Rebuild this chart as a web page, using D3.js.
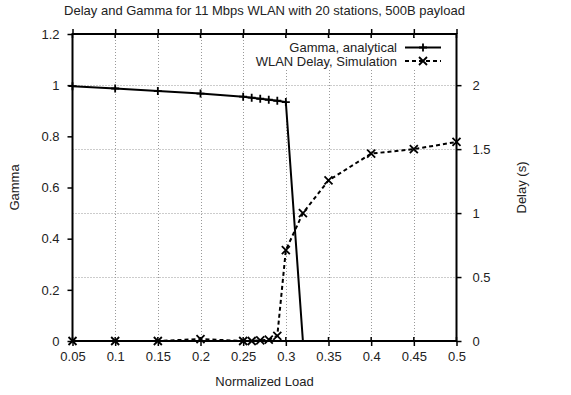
<!DOCTYPE html>
<html>
<head>
<meta charset="utf-8">
<script src="https://cdn.jsdelivr.net/npm/d3@7"></script>
<style>
  body { margin: 0; background: #fff; }
  text { font-family: "Liberation Sans", Arial, sans-serif; fill: #222; }
</style>
</head>
<body>
<svg width="571" height="395"></svg>
<script>
// data
const loads = [0.05, 0.1, 0.15, 0.2, 0.25, 0.26, 0.27, 0.28, 0.29, 0.3, 0.32];
const gamma = [0.996, 0.987, 0.977, 0.967, 0.955, 0.951, 0.947, 0.943, 0.939, 0.934, 0];

const delayLoads = [0.05, 0.1, 0.15, 0.2, 0.25, 0.26, 0.27, 0.28, 0.29, 0.3, 0.32, 0.35, 0.4, 0.45, 0.5];
const delay = [0, 0, 0, 0.015, 0, 0, 0.005, 0.01, 0.04, 0.71, 1.0, 1.255, 1.465, 1.5, 1.556];

const xTicks = [0.05, 0.1, 0.15, 0.2, 0.25, 0.3, 0.35, 0.4, 0.45, 0.5];
const yTicks = [0, 0.2, 0.4, 0.6, 0.8, 1, 1.2];
const y2Ticks = [0, 0.5, 1, 1.5, 2];

const svg = d3.select("svg");

const pLeft = 72.5, pRight = 456.5, pTop = 34, pBottom = 341;

const x = d3.scaleLinear().domain([0.05, 0.5]).range([pLeft, pRight]);
const y = d3.scaleLinear().domain([0, 1.2]).range([pBottom, pTop]);
const y2 = d3.scaleLinear().domain([0, 2.4]).range([pBottom, pTop]);

// grid (x ticks and y2 ticks)
const grid = svg.append("g").attr("stroke", "#999").attr("stroke-width", 1).attr("stroke-dasharray", "1,2");
grid.selectAll(".gx").data(xTicks.slice(1, -1)).enter().append("line")
  .attr("x1", d => Math.round(x(d)) + 0.5).attr("x2", d => Math.round(x(d)) + 0.5)
  .attr("y1", pTop).attr("y2", pBottom);
grid.selectAll(".gy").data(y2Ticks.slice(1)).enter().append("line")
  .attr("x1", pLeft).attr("x2", pRight)
  .attr("y1", d => Math.round(y2(d)) + 0.5).attr("y2", d => Math.round(y2(d)) + 0.5);

// axes
const fmt = d => String(d);
const xAxis = svg.append("g").attr("transform", `translate(0,${pBottom})`)
  .call(d3.axisBottom(x).tickValues(xTicks).tickFormat(fmt).tickSize(5).tickPadding(6));
const xTop = svg.append("g").attr("transform", `translate(0,${pTop})`)
  .call(d3.axisTop(x).tickValues(xTicks).tickFormat("").tickSize(5));
const yAxis = svg.append("g").attr("transform", `translate(${pLeft},0)`)
  .call(d3.axisLeft(y).tickValues(yTicks).tickFormat(fmt).tickSize(5).tickPadding(8));
const y2Axis = svg.append("g").attr("transform", `translate(${pRight},0)`)
  .call(d3.axisRight(y2).tickValues(y2Ticks).tickFormat(fmt).tickSize(5).tickPadding(11));

[xAxis, xTop, yAxis, y2Axis].forEach(g => {
  g.select(".domain").remove();
  g.selectAll("line").attr("stroke", "#000").attr("stroke-width", 1.5);
  g.selectAll("text").attr("font-size", 13).attr("fill", "#222")
    .attr("font-family", "Liberation Sans, Arial, sans-serif");
});

// inward halves of the x ticks
svg.append("g").selectAll("line").data(xTicks).enter().append("line")
  .attr("x1", d => x(d)).attr("x2", d => x(d))
  .attr("y1", pBottom).attr("y2", pBottom - 4)
  .attr("stroke", "#000").attr("stroke-width", 1.5);
svg.append("g").selectAll("line").data(xTicks).enter().append("line")
  .attr("x1", d => x(d)).attr("x2", d => x(d))
  .attr("y1", pTop).attr("y2", pTop + 4)
  .attr("stroke", "#000").attr("stroke-width", 1.5);

// frame
svg.append("rect").attr("x", pLeft).attr("y", pTop)
  .attr("width", pRight - pLeft).attr("height", pBottom - pTop)
  .attr("fill", "none").attr("stroke", "#000").attr("stroke-width", 2);

// legend background hides the grid
svg.append("rect").attr("x", 250).attr("y", pTop + 4).attr("width", 196).attr("height", 31).attr("fill", "#fff");

// series
const gammaPts = loads.map((d, i) => [d, gamma[i]]);
svg.append("path").datum(gammaPts)
  .attr("d", d3.line().x(d => x(d[0])).y(d => y(d[1])))
  .attr("fill", "none").attr("stroke", "#000").attr("stroke-width", 2);

const delayPts = delayLoads.map((d, i) => [d, delay[i]]);
svg.append("path").datum(delayPts)
  .attr("d", d3.line().x(d => x(d[0])).y(d => y2(d[1])))
  .attr("fill", "none").attr("stroke", "#000").attr("stroke-width", 2)
  .attr("stroke-dasharray", "4,3");

const m = 4;
function plus(g, cx, cy) {
  g.append("path").attr("d", `M${cx - m},${cy}H${cx + m}M${cx},${cy - m}V${cy + m}`)
    .attr("stroke", "#000").attr("stroke-width", 1.8).attr("fill", "none");
}
function cross(g, cx, cy) {
  g.append("path").attr("d", `M${cx - m},${cy - m}L${cx + m},${cy + m}M${cx - m},${cy + m}L${cx + m},${cy - m}`)
    .attr("stroke", "#000").attr("stroke-width", 1.8).attr("fill", "none");
}
const marks = svg.append("g");
gammaPts.slice(0, -1).forEach(d => plus(marks, x(d[0]), y(d[1])));
delayPts.forEach(d => cross(marks, x(d[0]), y2(d[1])));

// legend
const legend = [
  {label: "Gamma, analytical", dash: null, mark: plus},
  {label: "WLAN Delay, Simulation", dash: "4,3", mark: cross}
];
legend.forEach((l, i) => {
  const ly = 47.5 + i * 13.5;
  svg.append("text").attr("x", 397).attr("y", ly + 4.5).attr("text-anchor", "end")
    .attr("font-size", 13).text(l.label);
  svg.append("line").attr("x1", 405).attr("x2", 441).attr("y1", ly).attr("y2", ly)
    .attr("stroke", "#000").attr("stroke-width", 2).attr("stroke-dasharray", l.dash);
  l.mark(svg, 423, ly);
});

// titles
svg.append("text").attr("x", (pLeft + pRight) / 2).attr("y", 15).attr("text-anchor", "middle")
  .attr("font-size", 13).text("Delay and Gamma for 11 Mbps WLAN with 20 stations, 500B payload");
svg.append("text").attr("x", (pLeft + pRight) / 2).attr("y", 386).attr("text-anchor", "middle")
  .attr("font-size", 13).text("Normalized Load");
svg.append("text").attr("transform", `translate(19,${(pTop + pBottom) / 2}) rotate(-90)`)
  .attr("text-anchor", "middle").attr("font-size", 13).text("Gamma");
svg.append("text").attr("transform", `translate(526,${(pTop + pBottom) / 2}) rotate(-90)`)
  .attr("text-anchor", "middle").attr("font-size", 13).text("Delay (s)");
</script>
</body>
</html>
